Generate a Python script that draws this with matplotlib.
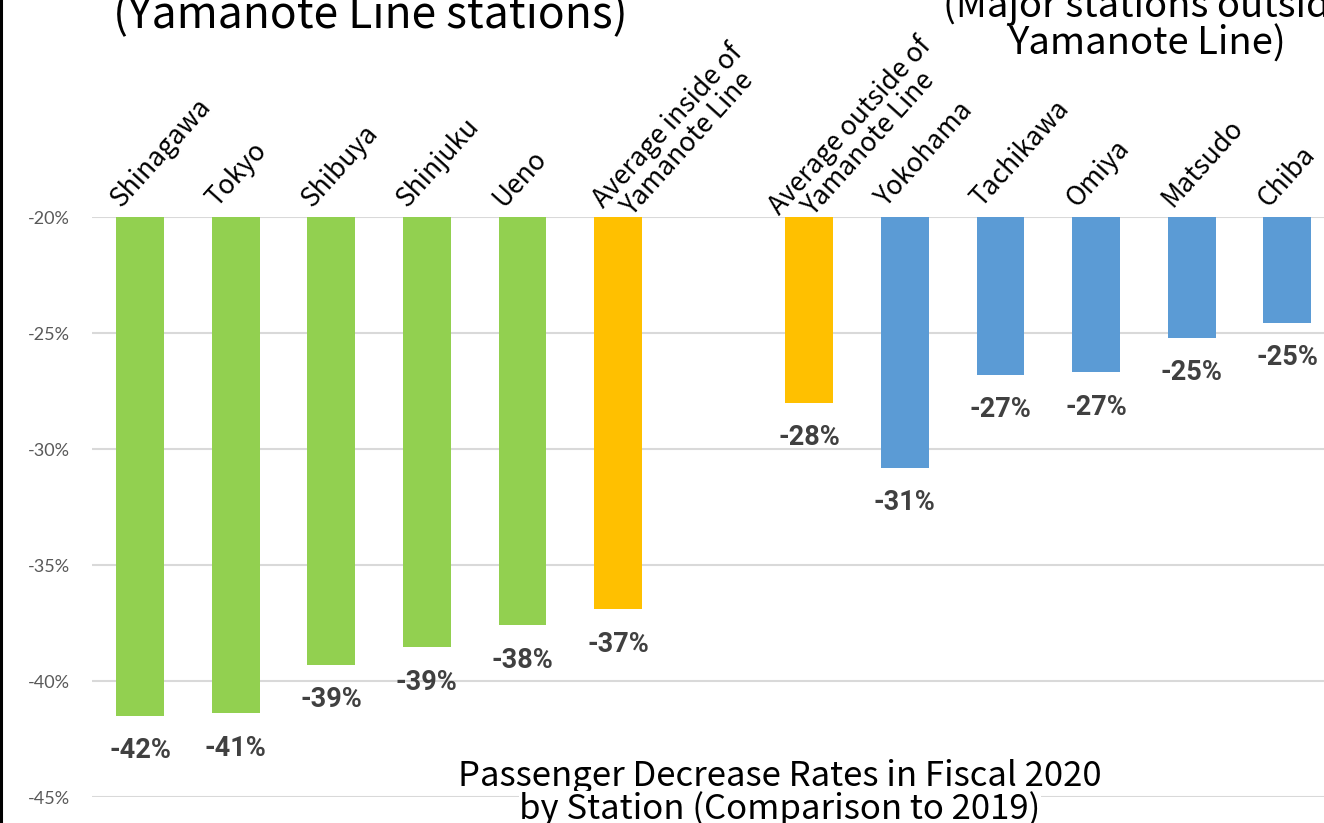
import matplotlib
matplotlib.use("Agg")
import matplotlib.pyplot as plt
from matplotlib.lines import Line2D
import numpy as np

# data
stations = ["Shinagawa", "Tokyo", "Shibuya", "Shinjuku", "Ueno",
            "Average inside of\nYamanote Line", "",
            "Average outside of\nYamanote Line",
            "Yokohama", "Tachikawa", "Omiya", "Matsudo", "Chiba"]
rates = [-41.5, -41.4, -39.3, -38.55, -37.6, -36.9, np.nan,
         -28.0, -30.8, -26.8, -26.7, -25.2, -24.55]
groups = ["in", "in", "in", "in", "in", "avg", "",
          "avg", "out", "out", "out", "out", "out"]
yticks = [-45, -40, -35, -30, -25, -20]
title = "Passenger Decrease Rates in Fiscal 2020\nby Station (Comparison to 2019)"

colors = {"in": "#92D050", "avg": "#FFC000", "out": "#5B9BD5", "": "white"}
jp = "Noto Sans CJK JP"

W, H = 1324, 823
fig = plt.figure(figsize=(W / 100, H / 100), dpi=100)

# plot area runs past the right edge of the picture (cropped chart)
left_px, right_px, top_px, bot_px = 92.2, 1335.0, 217.0, 797.0
ax = fig.add_axes([left_px / W, 1 - bot_px / H,
                   (right_px - left_px) / W, (bot_px - top_px) / H])

x = np.arange(len(stations))
ax.bar(x, rates, width=0.5, color=[colors[g] for g in groups], zorder=2)

ax.set_xlim(-0.5, len(stations) - 0.5)
ax.set_ylim(-45, -20)
ax.set_yticks(yticks)
ax.set_yticklabels([f"{t}%" for t in yticks], color="#595959",
                   fontsize=13, family="Lato")
ax.tick_params(axis="y", length=0, pad=16)
ax.set_xticks([])
for s in ax.spines.values():
    s.set_visible(False)
ax.yaxis.grid(True, color="#D9D9D9", lw=1.5, zorder=0)
ax.set_axisbelow(True)

# value labels under each bar
for xi, v in zip(x, rates):
    if np.isnan(v):
        continue
    ax.annotate(f"{v:.0f}%", (xi, v), xytext=(0, -35),
                textcoords="offset pixels", ha="center", va="center",
                fontsize=19.5, fontweight="bold", color="#404040",
                family="Roboto", annotation_clip=False)

# rotated station names above the plot area
two_line_offsets = {5: (6, -10), 7: (-10, -17)}
for xi, name in zip(x, stations):
    if not name:
        continue
    off = two_line_offsets.get(xi, (-19, 9))
    ax.annotate(name, (xi, -20), xytext=off, textcoords="offset pixels",
                rotation=48, rotation_mode="anchor", ha="left",
                va="baseline", multialignment="center", fontsize=19,
                family=jp, color="black",
                annotation_clip=False, linespacing=0.95)

# group titles (cropped at the picture edges)
fig.text(370 / W, 1 - 28 / H, "(Yamanote Line stations)", ha="center",
         va="baseline", fontsize=32, family=jp)
fig.text(1147 / W, 1 - 55 / H, "(Major stations outside\nYamanote Line)",
         ha="center", va="baseline", fontsize=27.5, family=jp,
         multialignment="center", linespacing=0.95)

# chart title at the bottom, each line on its own white box
for line, base in zip(title.split("\n"), [786, 819]):
    fig.text(780 / W, 1 - base / H, line, ha="center", va="baseline",
             fontsize=25, family=jp,
             bbox=dict(facecolor="white", edgecolor="none", pad=0))

# black border on the left edge
fig.add_artist(Line2D([0.0011, 0.0011], [0, 1], color="black", lw=2.2,
                      transform=fig.transFigure))

fig.savefig("out.png", dpi=100)
